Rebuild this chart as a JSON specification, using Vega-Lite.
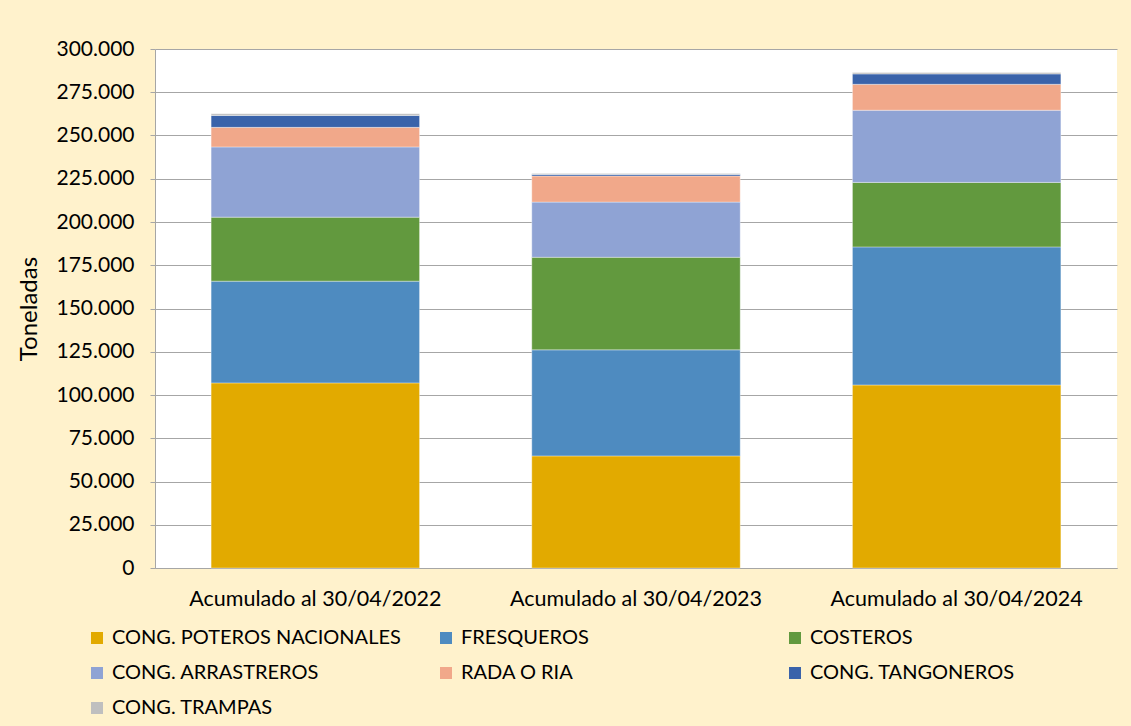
{
  "$schema": "https://vega.github.io/schema/vega-lite/v6.json",
  "width": 962,
  "height": 519,
  "autosize": {"type": "none"},
  "padding": {"left": 155, "top": 49, "right": 14, "bottom": 158},
  "background": "#FFF2CC",
  "config": {
    "font": "Lato",
    "view": {"fill": "#FFFFFF", "stroke": null},
    "locale": {"number": {"decimal": ",", "thousands": ".", "grouping": [3], "currency": ["", " €"]}}
  },
  "data": {
    "values": [
      {"periodo": "Acumulado al 30/04/2022", "flota": "CONG. POTEROS NACIONALES", "orden": 1, "toneladas": 107000},
      {"periodo": "Acumulado al 30/04/2022", "flota": "FRESQUEROS", "orden": 2, "toneladas": 58800},
      {"periodo": "Acumulado al 30/04/2022", "flota": "COSTEROS", "orden": 3, "toneladas": 37000},
      {"periodo": "Acumulado al 30/04/2022", "flota": "CONG. ARRASTREROS", "orden": 4, "toneladas": 40600},
      {"periodo": "Acumulado al 30/04/2022", "flota": "RADA O RIA", "orden": 5, "toneladas": 11300},
      {"periodo": "Acumulado al 30/04/2022", "flota": "CONG. TANGONEROS", "orden": 6, "toneladas": 6900},
      {"periodo": "Acumulado al 30/04/2022", "flota": "CONG. TRAMPAS", "orden": 7, "toneladas": 1000},
      {"periodo": "Acumulado al 30/04/2023", "flota": "CONG. POTEROS NACIONALES", "orden": 1, "toneladas": 64800},
      {"periodo": "Acumulado al 30/04/2023", "flota": "FRESQUEROS", "orden": 2, "toneladas": 61300},
      {"periodo": "Acumulado al 30/04/2023", "flota": "COSTEROS", "orden": 3, "toneladas": 53500},
      {"periodo": "Acumulado al 30/04/2023", "flota": "CONG. ARRASTREROS", "orden": 4, "toneladas": 31900},
      {"periodo": "Acumulado al 30/04/2023", "flota": "RADA O RIA", "orden": 5, "toneladas": 15100},
      {"periodo": "Acumulado al 30/04/2023", "flota": "CONG. TANGONEROS", "orden": 6, "toneladas": 900},
      {"periodo": "Acumulado al 30/04/2023", "flota": "CONG. TRAMPAS", "orden": 7, "toneladas": 600},
      {"periodo": "Acumulado al 30/04/2024", "flota": "CONG. POTEROS NACIONALES", "orden": 1, "toneladas": 105800},
      {"periodo": "Acumulado al 30/04/2024", "flota": "FRESQUEROS", "orden": 2, "toneladas": 79800},
      {"periodo": "Acumulado al 30/04/2024", "flota": "COSTEROS", "orden": 3, "toneladas": 37300},
      {"periodo": "Acumulado al 30/04/2024", "flota": "CONG. ARRASTREROS", "orden": 4, "toneladas": 41700},
      {"periodo": "Acumulado al 30/04/2024", "flota": "RADA O RIA", "orden": 5, "toneladas": 15000},
      {"periodo": "Acumulado al 30/04/2024", "flota": "CONG. TANGONEROS", "orden": 6, "toneladas": 6000},
      {"periodo": "Acumulado al 30/04/2024", "flota": "CONG. TRAMPAS", "orden": 7, "toneladas": 800}
    ]
  },
  "mark": {"type": "bar", "stroke": "#FFFFFF", "strokeWidth": 0.6, "strokeOpacity": 0.6},
  "encoding": {
    "x": {
      "field": "periodo",
      "type": "nominal",
      "sort": null,
      "scale": {"paddingInner": 0.35, "paddingOuter": 0.175},
      "axis": {
        "title": null,
        "labelAngle": 0,
        "labelLimit": 400,
        "ticks": false,
        "domainColor": "#A6A6A6",
        "domainWidth": 1,
        "labelPadding": 20,
        "labelFontSize": 21.5,
        "labelColor": "#000000",
        "labelFont": "Lato",
        "grid": false
      }
    },
    "y": {
      "field": "toneladas",
      "type": "quantitative",
      "stack": "zero",
      "scale": {"domain": [0, 300000], "nice": false},
      "axis": {
        "title": "Toneladas",
        "values": [0, 25000, 50000, 75000, 100000, 125000, 150000, 175000, 200000, 225000, 250000, 275000, 300000],
        "format": ",.0f",
        "grid": true,
        "gridColor": "#A6A6A6",
        "gridWidth": 1,
        "domainColor": "#A6A6A6",
        "tickColor": "#A6A6A6",
        "tickSize": 5,
        "labelFontSize": 21,
        "labelFont": "Lato",
        "labelColor": "#000000",
        "labelPadding": 16,
        "titleFont": "Lato",
        "titleFontSize": 24,
        "titleFontWeight": "normal",
        "titleColor": "#000000",
        "titlePadding": 14
      }
    },
    "color": {
      "field": "flota",
      "type": "nominal",
      "scale": {
        "domain": ["CONG. POTEROS NACIONALES", "FRESQUEROS", "COSTEROS", "CONG. ARRASTREROS", "RADA O RIA", "CONG. TANGONEROS", "CONG. TRAMPAS"],
        "range": ["#E2AA00", "#4E8BC0", "#62993E", "#8FA3D4", "#F1A88A", "#3A63AA", "#BFBFBF"]
      },
      "legend": {
        "title": null,
        "orient": "none",
        "direction": "horizontal",
        "legendX": -68,
        "legendY": 579,
        "columns": 3,
        "gridAlign": "all",
        "columnPadding": 35,
        "rowPadding": 15,
        "symbolType": "square",
        "symbolSize": 144,
        "symbolStrokeWidth": 0,
        "labelOffset": 5,
        "labelFontSize": 20,
        "labelFont": "Lato",
        "labelColor": "#000000",
        "labelLimit": 400
      }
    },
    "order": {"field": "orden", "type": "quantitative"}
  }
}
